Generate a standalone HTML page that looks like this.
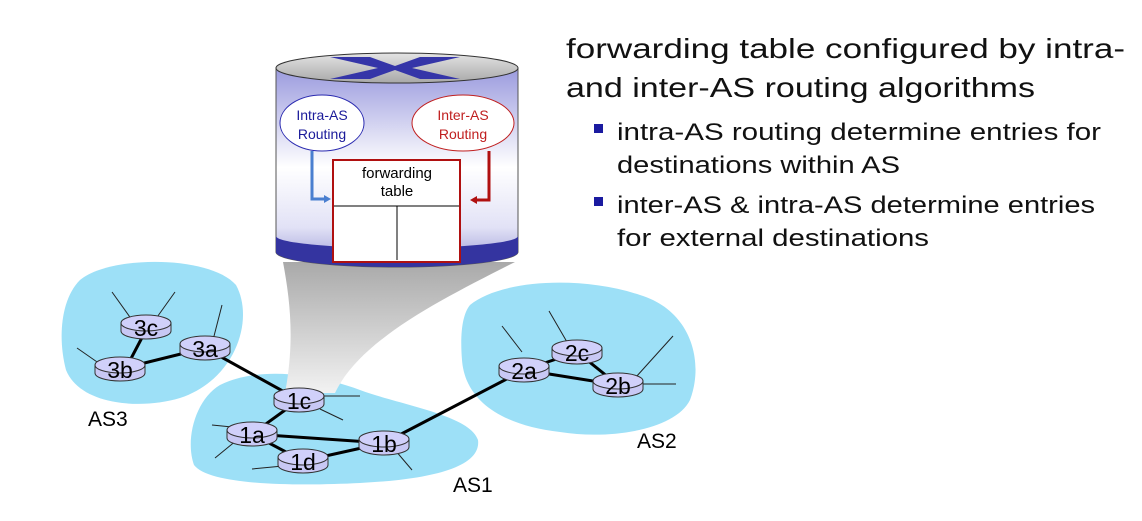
<!DOCTYPE html>
<html><head><meta charset="utf-8"><style>
html,body{margin:0;padding:0;background:#fff;}
svg{display:block;font-family:"Liberation Sans",sans-serif;}
</style></head><body>
<svg width="1142" height="521" viewBox="0 0 1142 521" xmlns="http://www.w3.org/2000/svg">
<defs>
<linearGradient id="cyl" x1="0" y1="0" x2="0" y2="1">
<stop offset="0" stop-color="#9a9ade"/><stop offset="0.5" stop-color="#ffffff"/><stop offset="0.8" stop-color="#e2e2f6"/><stop offset="1" stop-color="#9a9ad6"/>
</linearGradient>
<linearGradient id="top" x1="0" y1="0" x2="0" y2="1">
<stop offset="0" stop-color="#e4e4e4"/><stop offset="1" stop-color="#a8a8a8"/>
</linearGradient>
<linearGradient id="funnel" x1="0" y1="0" x2="0" y2="1">
<stop offset="0" stop-color="#a9a9a9"/><stop offset="1" stop-color="#f2f2f2"/>
</linearGradient>
<g id="r">
<path d="M-25,-4 L-25,4 A25,8 0 0 0 25,4 L25,-4 Z" fill="#c8c8f4" stroke="#333" stroke-width="1"/>
<ellipse cx="0" cy="-4" rx="25" ry="8" fill="#d0d0fa" stroke="#333" stroke-width="1"/>
</g>
</defs>

<path d="M80,280 C110,255 210,255 236,285 C255,320 235,380 180,398 C140,410 80,405 66,370 C58,340 60,300 80,280 Z" fill="#9de0f7"/>
<path d="M220,385 C260,365 320,375 360,390 C400,405 470,415 478,440 C482,470 420,480 360,483 C300,486 210,486 194,465 C185,440 195,400 220,385 Z" fill="#9de0f7"/>
<path d="M470,305 C500,280 580,275 640,295 C690,310 705,360 690,400 C675,430 610,440 560,432 C500,425 465,400 462,360 C460,335 462,315 470,305 Z" fill="#9de0f7"/>

<path d="M283,262 L515,262 C440,300 360,340 335,393 L285,393 C295,340 290,300 283,262 Z" fill="url(#funnel)"/>

<path d="M276,68 L276,252 A121,15 0 0 0 518,252 L518,68 Z" fill="url(#cyl)" stroke="#555" stroke-width="1"/>
<path d="M276,236 L276,252 A121,15 0 0 0 518,252 L518,236 A121,12 0 0 1 276,236 Z" fill="#3434a0"/>
<ellipse cx="397" cy="68" rx="121" ry="15" fill="url(#top)" stroke="#333" stroke-width="1"/>
<g fill="#3535a8">
<path d="M330,57 L370,57 L395,66 L420,57 L460,57 L412,68 L460,79 L420,79 L395,70 L370,79 L330,79 L378,68 Z"/>
</g>

<ellipse cx="322" cy="123" rx="42" ry="28" fill="#fff" stroke="#2a2ab0" stroke-width="1"/>
<text x="322" y="120" font-size="14" fill="#1a1a9a" text-anchor="middle">Intra-AS</text>
<text x="322" y="139" font-size="14" fill="#1a1a9a" text-anchor="middle">Routing</text>
<ellipse cx="463" cy="123" rx="51" ry="28" fill="#fff" stroke="#c02020" stroke-width="1"/>
<text x="463" y="120" font-size="14" fill="#c02020" text-anchor="middle">Inter-AS</text>
<text x="463" y="139" font-size="14" fill="#c02020" text-anchor="middle">Routing</text>

<path d="M312,151 L312,199 L326,199" fill="none" stroke="#4a7fd0" stroke-width="3"/>
<path d="M324,195 L331,199 L324,203 Z" fill="#4a7fd0"/>
<path d="M489,151 L489,200 L475,200" fill="none" stroke="#b01010" stroke-width="3"/>
<path d="M477,196 L470,200 L477,204 Z" fill="#b01010"/>

<rect x="333" y="160" width="127" height="102" fill="#fff" stroke="#b01010" stroke-width="2"/>
<line x1="334" y1="206" x2="459" y2="206" stroke="#000" stroke-width="1"/>
<line x1="397" y1="206" x2="397" y2="260" stroke="#000" stroke-width="1"/>
<text x="397" y="178" font-size="15" text-anchor="middle">forwarding</text>
<text x="397" y="196" font-size="15" text-anchor="middle">table</text>

<g stroke="#222" stroke-width="1">
<line x1="112" y1="292" x2="132" y2="320"/><line x1="175" y1="292" x2="155" y2="320"/>
<line x1="77" y1="348" x2="100" y2="364"/>
<line x1="222" y1="305" x2="213" y2="340"/>
<line x1="320" y1="396" x2="360" y2="396"/><line x1="320" y1="409" x2="343" y2="420"/>
<line x1="212" y1="425" x2="232" y2="427"/><line x1="215" y1="458" x2="237" y2="440"/>
<line x1="252" y1="469" x2="283" y2="466"/>
<line x1="395" y1="450" x2="412" y2="470"/>
<line x1="502" y1="326" x2="522" y2="352"/>
<line x1="549" y1="311" x2="567" y2="342"/>
<line x1="673" y1="336" x2="636" y2="377"/><line x1="640" y1="384" x2="676" y2="384"/>
</g>
<g stroke="#000" stroke-width="3" fill="none">
<line x1="146" y1="330" x2="126" y2="368"/>
<line x1="120" y1="369" x2="205" y2="348"/>
<line x1="205" y1="348" x2="299" y2="400"/>
<line x1="299" y1="400" x2="252" y2="434"/>
<line x1="252" y1="434" x2="384" y2="443"/>
<line x1="252" y1="434" x2="303" y2="461"/>
<line x1="303" y1="461" x2="384" y2="443"/>
<line x1="384" y1="443" x2="524" y2="370"/>
<line x1="524" y1="370" x2="577" y2="352"/>
<line x1="524" y1="370" x2="618" y2="385"/>
<line x1="577" y1="352" x2="618" y2="385"/>
</g>

<g font-size="23" text-anchor="middle">
<use href="#r" x="146" y="327"/><text x="146" y="336">3c</text>
<use href="#r" x="120" y="369"/><text x="120" y="378">3b</text>
<use href="#r" x="205" y="348"/><text x="205" y="357">3a</text>
<use href="#r" x="299" y="400"/><text x="299" y="409">1c</text>
<use href="#r" x="252" y="434"/><text x="252" y="443">1a</text>
<use href="#r" x="303" y="461"/><text x="303" y="470">1d</text>
<use href="#r" x="384" y="443"/><text x="384" y="452">1b</text>
<use href="#r" x="524" y="370"/><text x="524" y="379">2a</text>
<use href="#r" x="577" y="352"/><text x="577" y="361">2c</text>
<use href="#r" x="618" y="385"/><text x="618" y="394">2b</text>
</g>

<g font-size="21">
<text x="88" y="426">AS3</text>
<text x="453" y="492">AS1</text>
<text x="637" y="448">AS2</text>
</g>

<g font-size="28" fill="#111">
<text x="566" y="58" textLength="559" lengthAdjust="spacingAndGlyphs">forwarding table  configured by intra-</text>
<text x="566" y="97" textLength="469" lengthAdjust="spacingAndGlyphs">and inter-AS routing algorithms</text>
</g>
<g font-size="24" fill="#111">
<text x="617" y="140" textLength="484" lengthAdjust="spacingAndGlyphs">intra-AS routing determine entries for</text>
<text x="617" y="173" textLength="283" lengthAdjust="spacingAndGlyphs">destinations within AS</text>
<text x="617" y="213" textLength="478" lengthAdjust="spacingAndGlyphs">inter-AS &amp; intra-AS determine entries</text>
<text x="617" y="246" textLength="312" lengthAdjust="spacingAndGlyphs">for external destinations</text>
</g>
<rect x="594" y="124" width="9" height="9" fill="#1a1aa0"/>
<rect x="594" y="197" width="9" height="9" fill="#1a1aa0"/>
</svg>
</body></html>
